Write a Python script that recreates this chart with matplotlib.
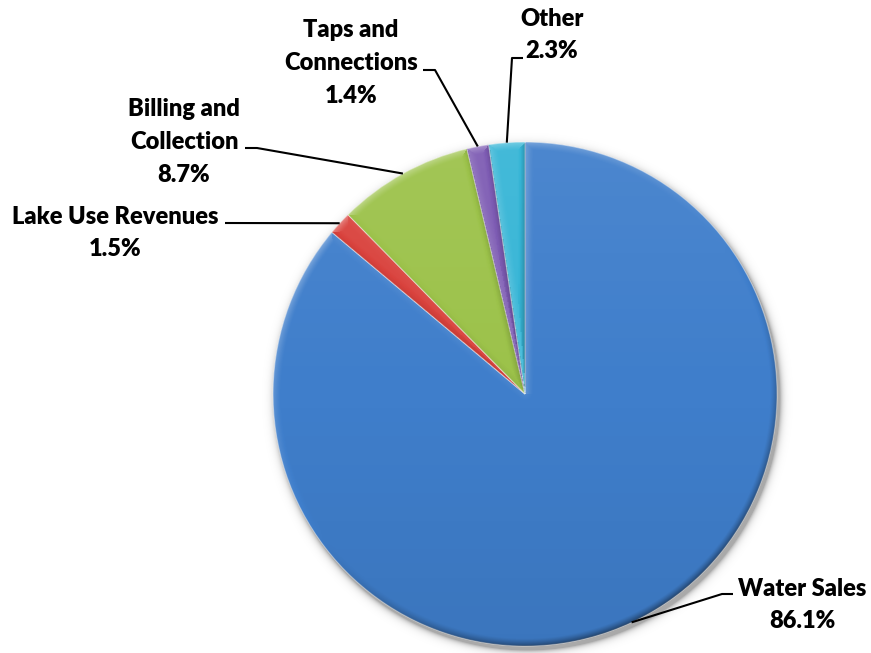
import numpy as np
import matplotlib
matplotlib.use("Agg")
import matplotlib.pyplot as plt
from matplotlib.patches import Circle

# Revenue breakdown (percent of total)
categories = ["Water Sales", "Lake Use Revenues", "Billing and\nCollection",
              "Taps and\nConnections", "Other"]
shares = [86.1, 1.5, 8.7, 1.4, 2.3]
colors = ["#3F7ECB", "#D9423D", "#9CC24A", "#7D5BB3", "#36B5D6"]

W, H = 871, 653
fig = plt.figure(figsize=(W / 100, H / 100), dpi=100)
ax = fig.add_axes([0, 0, 1, 1])

cx, cy, R = 525, H - 394, 252

wedges, _ = ax.pie(shares, colors=colors, startangle=90, counterclock=False,
                   center=(cx, cy), radius=R, frame=True,
                   wedgeprops=dict(linewidth=0.8, edgecolor=(1, 1, 1, 0.45)))
for w in wedges:
    w.set_zorder(2)

ax.set_xlim(0, W)
ax.set_ylim(0, H)
ax.set_aspect("equal")
ax.axis("off")

# pixel grid around the pie for shading and the drop shadow
pad = 24
xs = np.arange(cx - R - pad, cx + R + pad) + 0.5
ys = np.arange(cy - R - pad, cy + R + pad) + 0.5
X, Y = np.meshgrid(xs, ys)
ext = (xs[0] - 0.5, xs[-1] + 0.5, ys[0] - 0.5, ys[-1] + 0.5)

# soft drop shadow
ds = np.hypot(X - cx - 2, Y - cy + 4) - R
sh_alpha = np.where(ds > -6, 0.34 * np.exp(-np.clip(ds, 0, None) / 3.0), 0.34)
shadow = np.zeros(X.shape + (4,))
shadow[..., 3] = sh_alpha
ax.imshow(shadow, extent=ext, origin="lower", zorder=1, interpolation="bilinear")

# bevel and light gradient on each slice
dx, dy = X - cx, Y - cy
r = np.hypot(dx, dy) + 1e-9
ang = np.degrees(np.arctan2(dy, dx))
L = np.array([-0.6, 0.8])
bevel = 8.0
shade = np.zeros(X.shape)
for w in wedges:
    t1, t2 = w.theta1, w.theta2
    span = t2 - t1
    phi = (ang - t1) % 360
    inside = phi < span
    a1 = np.radians(np.minimum(phi, 90))
    a2 = np.radians(np.minimum(span - phi, 90))
    d0 = R - r
    d1 = r * np.sin(a1)
    d2 = r * np.sin(a2)
    n0 = (dx / r) * L[0] + (dy / r) * L[1]
    th1, th2 = np.radians(t1), np.radians(t2)
    n1 = np.sin(th1) * L[0] - np.cos(th1) * L[1]
    n2 = -np.sin(th2) * L[0] + np.cos(th2) * L[1]
    dstack = np.stack([d0, d1, d2])
    nstack = np.stack([n0, np.full_like(d0, n1), np.full_like(d0, n2)])
    idx = np.argmin(dstack, axis=0)
    dmin = np.take_along_axis(dstack, idx[None], 0)[0]
    nsel = np.take_along_axis(nstack, idx[None], 0)[0]
    wgt = np.clip(1 - dmin / bevel, 0, 1) ** 1.3
    s = np.where(nsel > 0, 0.3, 0.45) * wgt * nsel
    shade = np.where(inside, s, shade)

shade += 0.07 * (Y - cy) / R
overlay = np.zeros(X.shape + (4,))
overlay[..., :3] = np.where(shade[..., None] > 0, 1.0, 0.0)
overlay[..., 3] = np.clip(np.abs(shade), 0, 0.6)
im = ax.imshow(overlay, extent=ext, origin="lower", zorder=3, interpolation="bilinear")
im.set_clip_path(Circle((cx, cy), R, transform=ax.transData))

# labels with leader lines (elbow and text positions in pixels)
label_pos = [(802, H - 605), (115, H - 233), (184, H - 142), (351, H - 63), (552, H - 35)]
elbows = [[(722, H - 594), (733, H - 594)],
          [(225, H - 223)],
          [(257, H - 148), (245, H - 148)],
          [(435, H - 70), (423, H - 70)],
          [(512, H - 58), (523, H - 58)]]

for w, name, val, (tx, ty), elb in zip(wedges, categories, shares, label_pos, elbows):
    mid = np.radians((w.theta1 + w.theta2) / 2)
    px, py = cx + R * np.cos(mid), cy + R * np.sin(mid)
    pts = [(px, py)] + elb
    ax.plot([p[0] for p in pts], [p[1] for p in pts], color="black", lw=1.5,
            zorder=4, solid_capstyle="butt")
    ax.text(tx, ty, f"{name}\n{val:.1f}%", ha="center", va="center",
            multialignment="center", fontsize=17, fontweight="heavy",
            family="Lato", color="black", linespacing=1.6, zorder=5)

fig.savefig("out.png", dpi=100, facecolor="white")
